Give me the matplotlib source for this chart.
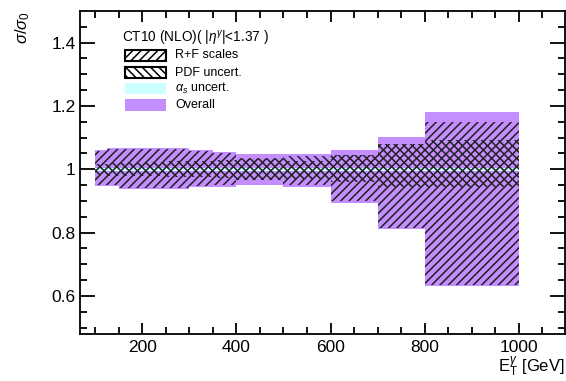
import numpy as np
import matplotlib
matplotlib.use("Agg")
import matplotlib.pyplot as plt
from matplotlib.patches import Rectangle

plt.rcParams['font.family'] = ['Liberation Sans', 'DejaVu Sans']
plt.rcParams['mathtext.fontset'] = 'custom'
plt.rcParams['mathtext.rm'] = 'Liberation Sans'
plt.rcParams['mathtext.it'] = 'Liberation Sans:italic'
plt.rcParams['mathtext.bf'] = 'Liberation Sans:bold'
plt.rcParams['hatch.linewidth'] = 1.1

# E_T^gamma bin edges [GeV]
bin_edges = [100, 125, 150, 175, 200, 250, 300, 350, 400, 500, 600, 700, 800, 1000]

# relative uncertainties on sigma/sigma_0 (upward / downward)
scale_up   = [0.058, 0.065, 0.065, 0.065, 0.065, 0.065, 0.057, 0.050, 0.035, 0.025, 0.045, 0.080, 0.151]
scale_down = [0.050, 0.050, 0.060, 0.060, 0.060, 0.060, 0.052, 0.050, 0.035, 0.050, 0.100, 0.185, 0.365]
pdf_up     = [0.018, 0.020, 0.020, 0.020, 0.022, 0.025, 0.025, 0.028, 0.033, 0.042, 0.045, 0.080, 0.093]
pdf_down   = [0.018, 0.020, 0.020, 0.020, 0.022, 0.025, 0.025, 0.028, 0.033, 0.030, 0.040, 0.055, 0.055]
alphas_unc = [0.004] * 13
total_up   = [0.061, 0.068, 0.068, 0.068, 0.068, 0.068, 0.061, 0.055, 0.048, 0.048, 0.061, 0.101, 0.182]
total_down = [0.053, 0.053, 0.063, 0.063, 0.063, 0.063, 0.057, 0.057, 0.049, 0.057, 0.107, 0.189, 0.367]

legend_title = r'CT10 (NLO)( |$\eta^{\gamma}$|<1.37 )'
legend_labels = ['R+F scales', 'PDF uncert.', r'$\alpha_{s}$ uncert.', 'Overall']

purple = '#c48eff'
cyan = '#ccffff'

W, H = 566, 381
fig = plt.figure(figsize=(W / 100, H / 100), dpi=100)
L, R, T, B = 80, 565, 11, 334
ax = fig.add_axes([L / W, 1 - B / H, (R - L) / W, (B - T) / H])

edges = np.array(bin_edges, dtype=float)
one = np.ones(len(edges) - 1)

def band(up, down, **kw):
    up = np.asarray(up); down = np.asarray(down)
    ax.stairs(one + up, edges, baseline=one - down, fill=True, **kw)

band(total_up, total_down, facecolor=purple, edgecolor='none', linewidth=0)
band(alphas_unc, alphas_unc, facecolor=cyan, edgecolor='none', linewidth=0)
band(scale_up, scale_down, facecolor='none', edgecolor='#202020', hatch='////', linewidth=0)
band(pdf_up, pdf_down, facecolor='none', edgecolor='#202020', hatch='\\\\\\\\', linewidth=0)

ax.set_xlim(68, 1098)
ax.set_ylim(0.48, 1.5)
ax.set_xticks([200, 400, 600, 800, 1000])
ax.set_xticks(np.arange(100, 1100, 50), minor=True)
ax.set_yticks([0.6, 0.8, 1.0, 1.2, 1.4])
ax.set_yticklabels(['0.6', '0.8', '1', '1.2', '1.4'])
ax.set_yticks(np.arange(0.5, 1.5, 0.05), minor=True)

for s in ax.spines.values():
    s.set_linewidth(1.3)
ax.tick_params(axis='both', which='both', direction='in', top=True, right=True,
               width=1.3, labelsize=12.5)
ax.tick_params(axis='x', which='major', length=8, pad=4)
ax.tick_params(axis='x', which='minor', length=5)
ax.tick_params(axis='y', which='major', length=11, pad=3)
ax.tick_params(axis='y', which='minor', length=5)

ax.set_xlabel(r'E$_{\mathrm{T}}^{\gamma}$ [GeV]', fontsize=12, loc='right', labelpad=0)
ax.set_ylabel(r'$\sigma/\sigma_{0}$', fontsize=12, loc='top', labelpad=14)

# legend drawn in pixel positions
def fx(x): return (x - L) / (R - L)
def fy(y): return (B - y) / (B - T)

ax.text(fx(122), fy(38), legend_title, transform=ax.transAxes, fontsize=9.8,
        va='center', ha='left')
rows = [(50, 61), (67, 78), (83, 94), (99, 111)]
styles = [dict(facecolor='white', edgecolor='black', hatch='////', linewidth=1.5),
          dict(facecolor='white', edgecolor='black', hatch='\\\\\\\\', linewidth=1.5),
          dict(facecolor=cyan, edgecolor='none'),
          dict(facecolor=purple, edgecolor='none')]
for (y0, y1), st, lab in zip(rows, styles, legend_labels):
    ax.add_patch(Rectangle((fx(125), fy(y1)), fx(166) - fx(125), fy(y0) - fy(y1),
                           transform=ax.transAxes, clip_on=False, **st))
    ax.text(fx(175), fy((y0 + y1) / 2), lab, transform=ax.transAxes, fontsize=9,
            va='center', ha='left')

fig.savefig('out.png', dpi=100)
